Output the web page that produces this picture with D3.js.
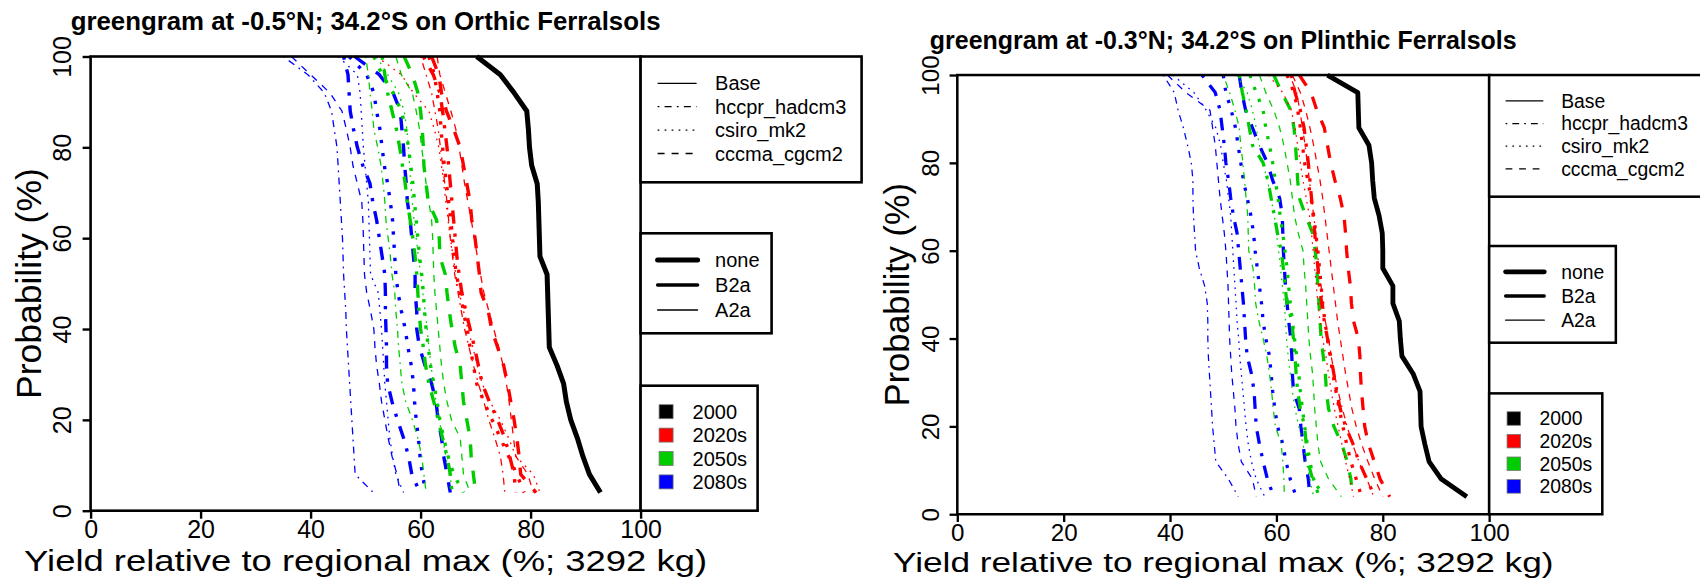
<!DOCTYPE html>
<html><head><meta charset="utf-8">
<script src="https://cdn.jsdelivr.net/npm/d3@7"></script>
<style>
body{margin:0;background:#fff;}
svg{display:block;font-family:"Liberation Sans",Arial,Helvetica,sans-serif;}
</style>
</head><body>
<svg id="chart" width="1700" height="579"></svg>
<script>
// ---------------- DATA ----------------
const probability = [100,96,92,88,84,80,76,72,68,64,60,56,52,48,44,40,36,32,28,24,20,16,12,8,4];
const xTicks = [0,20,40,60,80,100];
const yTicks = [0,20,40,60,80,100];
const gcmLegend = ["Base","hccpr_hadcm3","csiro_mk2","cccma_cgcm2"];
const scenarioLegend = ["none","B2a","A2a"];
const periodLegend = ["2000","2020s","2050s","2080s"];
const titles = ["greengram at -0.5°N; 34.2°S on Orthic Ferralsols","greengram at -0.3°N; 34.2°S on Plinthic Ferralsols"];
const xLabel = "Yield relative to regional max (%; 3292 kg)";
const yLabel = "Probability (%)";

// Left panel (Orthic Ferralsols) yields, % of regional max, for each probability level
const L_2000_none        = [70.2,74.5,77,79.3,79.6,79.8,80.2,81.2,81.4,81.5,81.6,81.7,83,83.1,83.2,83.3,83.4,84.8,86,86.5,87.3,88.5,89.5,90.7,92.7];
const L_2080s_hccpr_A2a  = [35,39.5,42.5,43.8,44.3,44.8,45,45.2,45.4,45.6,45.8,45.9,46,46.2,46.4,46.5,46.7,46.9,47.1,47.3,47.5,47.7,47.9,48.1,51.4];
const L_2080s_csiro_A2a  = [45,48.5,49,49.2,49.4,49.6,49.9,50.2,50.5,50.6,50.7,50.8,50.9,52.3,52.6,52.9,53.1,53.3,53.5,53.8,54.1,54.4,54.9,55.5,56.9];
const L_2080s_cccma_A2a  = [36.5,40,43.5,45.7,46.5,47.2,47.7,48.5,49.3,49.5,49.6,49.7,49.8,50.2,50.9,51.5,51.7,52,52.5,52.9,53.5,54.1,54.8,55.7,56.3];
const L_2080s_hccpr_B2a  = [46,46.8,47,47.2,47.8,48.5,49.5,50.8,51.3,52,52.5,53,53.5,53.6,53.6,53.7,53.8,53.8,54,54.8,55.8,56.9,57.8,58.4,59.9];
const L_2080s_csiro_B2a  = [47,50.2,51.5,52,52.6,53,53.4,54,54.5,54.9,55.1,55.3,55.5,55.9,56.5,57.2,57.7,58.3,58.7,58.9,59.2,59.6,59.9,60.3,61];
const L_2080s_cccma_B2a  = [48,52.5,55,56.3,56.6,56.9,57.1,57.4,57.6,58.1,58.4,58.7,59,59,59.3,59.3,59.8,60.8,62,62.8,63.2,63.8,64.2,64.8,65.4];
const L_2050s_hccpr_A2a  = [50,50.5,50.8,51.2,51.5,52.2,52.8,53.2,53.5,53.7,54.1,54.5,54.8,55.3,55.5,55.8,56,56.3,56.6,57.3,58.5,59.5,60.2,60.6,61];
const L_2050s_csiro_A2a  = [52,54,56,57,57.5,57.8,58,58.2,58.5,58.8,59.2,59.6,60,60.4,60.8,61.2,61.5,61.9,62.3,62.8,63.4,64,64.6,65.2,66];
const L_2050s_cccma_A2a  = [55.5,56.5,58.5,59.2,59.8,60.2,60.6,61,61.5,62,62.2,62.3,62.4,62.6,62.9,63.2,63.5,63.8,64.2,64.8,65.6,67.2,67.5,67.8,69];
const L_2050s_hccpr_B2a  = [53,53.5,54,54.8,55.6,56.2,56.7,57.2,57.6,58.1,58.6,59,59.3,59.5,59.7,60,60.5,60.9,61.5,62.4,63.2,64,64.8,65.4,65.7];
const L_2050s_csiro_B2a  = [51.5,53,55,56.5,57.3,57.8,58.2,58.6,58.9,59.2,59.5,59.8,60.2,60.5,60.7,61,61.4,61.8,62.4,63,63.5,64.2,65,66,67.8];
const L_2050s_cccma_B2a  = [57,58.5,59.5,60,60.3,60.5,60.6,61,61.4,62.9,63.4,63.5,64.5,64.8,65.2,65.7,66.3,67.2,67.5,67.8,68.4,69,69.2,69.6,70];
const L_2020s_hccpr_A2a  = [60,61,62,62.6,63.2,63.6,64,64.4,64.8,65.1,65.4,65.8,66.2,66.8,67.4,68,68.8,69.6,70.5,71.5,72.4,73.5,74.5,75,75.3];
const L_2020s_csiro_A2a  = [52,56.5,58.7,61.5,62.5,63.3,63.8,64.2,64.6,65,65.4,65.9,66.4,67,67.8,68.6,69.5,70.3,71.2,72.6,74.5,76,77.3,80.5,81.7];
const L_2020s_cccma_A2a  = [63,63.5,64.5,65.5,66.4,67,67.5,68,68.6,69.2,69.8,70.3,70.9,71.5,72.4,73.3,74.2,75,75.6,76.1,76.5,76.9,77.3,79.5,80.5];
const L_2020s_hccpr_B2a  = [60.5,62.3,63.5,64,64.4,64.8,65.1,65.4,65.7,66,66.3,66.6,67,67.5,68.2,69,69.8,70.5,71.2,72.5,74,75.3,76.2,77,77.3];
const L_2020s_csiro_B2a  = [61.5,62.5,63,63.5,63.7,64,64.3,64.7,65.1,65.5,65.8,66.1,66.5,67.2,67.8,68.4,69,69.6,70.2,71.5,73,74.5,76,77.5,78.8];
const L_2020s_cccma_B2a  = [62,63.3,63.8,64.7,66,67.2,67.8,68.4,69,69.3,69.9,70.3,70.7,71,72.3,72.9,74,75.1,75.8,76.4,77,77.5,77.9,78.2,81];

// Right panel (Plinthic Ferralsols)
const R_2000_none        = [69.6,75.3,75.4,75.5,77.4,77.9,78.1,78.4,79.3,79.9,80,80,81.9,81.9,83.1,83.3,83.6,85.7,87,87.1,87.2,87.9,88.7,91,95.8];
const R_2080s_hccpr_A2a  = [38.7,40.8,41.5,42.5,43.3,44,44.3,44.3,44.4,44.6,44.8,45.5,46.5,47,47.1,47.1,47.2,47.4,47.6,47.8,48,48.3,48.6,51,52.8];
const R_2080s_csiro_A2a  = [40.5,44.5,46.8,48.6,49.5,50,50.6,51,51.4,51.6,51.8,52,52.2,52.4,52.6,52.9,53.1,53.4,53.7,54,54.3,54.7,55.3,56.2,57.8];
const R_2080s_cccma_A2a  = [39.5,43,47.5,48,48.5,48.8,49.1,49.4,49.8,50.2,50.5,50.7,50.9,51,51.1,51.2,51.4,51.6,51.9,52.2,52.4,52.8,53.4,55.5,56.2];
const R_2080s_hccpr_B2a  = [46,48.5,49.4,49.8,50.2,50.5,51,51.4,51.9,52.6,52.9,53.2,53.5,53.8,54,54.2,54.5,55.3,55.8,56,56.2,56.8,57.5,58.3,59.5];
const R_2080s_csiro_B2a  = [50,50.5,51.5,52.3,52.8,53.3,53.8,54.5,55.2,55.7,56,56.4,56.8,57.2,57.5,58,58.7,59,59.3,59.7,60.2,61.2,61.8,62.6,63.7];
const R_2080s_cccma_B2a  = [53,53.5,54.2,55.5,56.8,58.3,59.3,60.6,61.1,61.2,61.3,61.5,61.7,62,62.3,62.7,62.9,63,63.2,64.3,64.6,65,65.4,66,66.3];
const R_2050s_hccpr_A2a  = [50,51.2,52.2,53,53.3,53.7,54,54.3,54.6,54.7,54.8,55.6,55.9,56.1,56.7,57.5,58.2,58.7,59.1,59.4,59.8,60.9,61.2,61.4,61.5];
const R_2050s_csiro_A2a  = [52.5,54.5,55.5,56.2,56.8,57.5,58.3,59,59.6,60,60.4,60.8,61.1,61.5,61.7,61.9,62.2,62.6,63,63.5,64.2,65,65.6,66.3,67];
const R_2050s_cccma_A2a  = [56.8,58,59.5,60.6,61.4,62,62.6,63,63.4,64.1,65,65.2,65.5,65.7,65.9,66.1,66.4,66.8,67,67.2,67.5,67.8,68.3,69.8,72.2];
const R_2050s_hccpr_B2a  = [53,53.6,54.3,54.9,55.5,57.5,58.4,59,59.6,60.2,60.9,61.3,61.6,62,62.9,63.2,63.5,63.7,64,64.5,65.3,65.6,65.9,66.8,69];
const R_2050s_csiro_B2a  = [55,56.2,57.5,58,58.7,59.3,59.8,60.3,60.7,61.2,61.6,62,62.3,62.6,63,63.4,63.8,64.2,64.5,64.9,65.3,65.8,66.3,67,68];
const R_2050s_cccma_B2a  = [59.5,61,62.7,63.3,63.6,63.8,64,64.3,65.5,66.8,67.3,67.6,67.8,68,68.2,68.4,68.8,69.2,69.4,69.8,70.8,72.3,73.3,74,74.3];
const R_2020s_hccpr_A2a  = [62.5,63.8,64.4,64.9,65.4,65.8,66.2,66.6,67,67.4,67.7,68,68.4,68.8,69.2,69.8,70.3,70.9,71.6,72.4,73.3,74.3,75.5,77,78.3];
const R_2020s_csiro_A2a  = [58.5,61.2,62.8,63.5,64,64.5,65,65.6,66.2,66.6,66.9,67.2,67.5,67.8,68.2,68.7,69.3,69.8,70.3,70.9,71.6,72.3,73,73.8,74.5];
const R_2020s_cccma_A2a  = [63,64.5,65.5,66.3,67,67.6,68.2,68.7,69.1,69.5,69.9,70.3,70.7,71.1,71.5,72,72.5,73,73.6,74.2,75,76,77.2,78.5,80];
const R_2020s_hccpr_B2a  = [62.8,63.5,64.5,65.2,65.6,66,66.3,66.6,66.9,67.2,67.5,67.8,68.1,68.5,69,69.6,70.2,70.8,71.3,72,73,74.4,75.5,77,78.5];
const R_2020s_csiro_B2a  = [62,63.3,64,64.5,64.9,65.3,65.9,66.5,67,67.4,67.8,68.1,68.4,68.7,69.1,69.6,70.1,70.6,71.2,71.8,72.5,73.2,74,75,76];
const R_2020s_cccma_B2a  = [64.3,66.5,67.6,69,69.6,70.2,71,72,72.7,73,73.2,73.5,73.9,74.1,74.5,75.4,75.7,75.8,76,76.3,76.6,77.3,78.4,79.5,81.3];

// ---------------- SERIES TABLES ----------------
function S(period, gcm, scen, vals){ return {period, gcm, scen, vals}; }
const leftSeries = [
  S("2080s","hccpr","A2a",L_2080s_hccpr_A2a), S("2080s","csiro","A2a",L_2080s_csiro_A2a), S("2080s","cccma","A2a",L_2080s_cccma_A2a),
  S("2080s","hccpr","B2a",L_2080s_hccpr_B2a), S("2080s","csiro","B2a",L_2080s_csiro_B2a), S("2080s","cccma","B2a",L_2080s_cccma_B2a),
  S("2050s","hccpr","A2a",L_2050s_hccpr_A2a), S("2050s","csiro","A2a",L_2050s_csiro_A2a), S("2050s","cccma","A2a",L_2050s_cccma_A2a),
  S("2050s","hccpr","B2a",L_2050s_hccpr_B2a), S("2050s","csiro","B2a",L_2050s_csiro_B2a), S("2050s","cccma","B2a",L_2050s_cccma_B2a),
  S("2020s","hccpr","A2a",L_2020s_hccpr_A2a), S("2020s","csiro","A2a",L_2020s_csiro_A2a), S("2020s","cccma","A2a",L_2020s_cccma_A2a),
  S("2020s","hccpr","B2a",L_2020s_hccpr_B2a), S("2020s","csiro","B2a",L_2020s_csiro_B2a), S("2020s","cccma","B2a",L_2020s_cccma_B2a),
  S("2000","base","none",L_2000_none)
];
const rightSeries = [
  S("2080s","hccpr","A2a",R_2080s_hccpr_A2a), S("2080s","csiro","A2a",R_2080s_csiro_A2a), S("2080s","cccma","A2a",R_2080s_cccma_A2a),
  S("2080s","hccpr","B2a",R_2080s_hccpr_B2a), S("2080s","csiro","B2a",R_2080s_csiro_B2a), S("2080s","cccma","B2a",R_2080s_cccma_B2a),
  S("2050s","hccpr","A2a",R_2050s_hccpr_A2a), S("2050s","csiro","A2a",R_2050s_csiro_A2a), S("2050s","cccma","A2a",R_2050s_cccma_A2a),
  S("2050s","hccpr","B2a",R_2050s_hccpr_B2a), S("2050s","csiro","B2a",R_2050s_csiro_B2a), S("2050s","cccma","B2a",R_2050s_cccma_B2a),
  S("2020s","hccpr","A2a",R_2020s_hccpr_A2a), S("2020s","csiro","A2a",R_2020s_csiro_A2a), S("2020s","cccma","A2a",R_2020s_cccma_A2a),
  S("2020s","hccpr","B2a",R_2020s_hccpr_B2a), S("2020s","csiro","B2a",R_2020s_csiro_B2a), S("2020s","cccma","B2a",R_2020s_cccma_B2a),
  S("2000","base","none",R_2000_none)
];

// ---------------- STYLE ----------------
const colorOf = {"2000":"#000000","2020s":"#FF0000","2050s":"#00CD00","2080s":"#0000FF"};
const widthOf = {none:5, B2a:3.4, A2a:1.3};
function dashOf(gcm, scen){
  const u = scen === "B2a" ? 3.3 : 1.75;
  if (gcm === "cccma") return [4*u,4*u].join(",");
  if (gcm === "csiro") return [1*u,3*u].join(",");
  if (gcm === "hccpr") return [1*u,3*u,4*u,3*u].join(",");
  return null;
}

const svg = d3.select("#chart");
svg.append("rect").attr("width",1700).attr("height",579).attr("fill","#fff");

function drawPanel(g, title, series){
  const x = d3.scaleLinear().domain([0,100]).range([90.6,640.6]);
  const y = d3.scaleLinear().domain([0,100]).range([510.7,56.5]);
  const line = d3.line().x(d => x(d[1])).y(d => y(d[0]));

  g.selectAll("path.series").data(series).join("path")
    .attr("class","series")
    .attr("d", s => line(probability.map((p,i) => [p, s.vals[i]])))
    .attr("fill","none")
    .attr("stroke", s => colorOf[s.period])
    .attr("stroke-width", s => widthOf[s.scen])
    .attr("stroke-dasharray", s => dashOf(s.gcm, s.scen))
    .attr("stroke-linejoin","round")
    .attr("stroke-linecap","butt");

  // plot box
  g.append("rect").attr("x",x(0)).attr("y",y(100))
    .attr("width",x(100)-x(0)).attr("height",y(0)-y(100))
    .attr("fill","none").attr("stroke","#000").attr("stroke-width",2.6);

  // x axis
  const gx = g.append("g").attr("transform",`translate(0,${y(0)})`)
    .call(d3.axisBottom(x).tickValues(xTicks).tickSize(8).tickPadding(1.5).tickFormat(d3.format("d")));
  gx.select(".domain").remove();
  gx.selectAll(".tick line").attr("stroke","#000").attr("stroke-width",2.4);
  gx.selectAll(".tick text").attr("font-size",25).attr("fill","#000").attr("font-family","Liberation Sans, Arial, sans-serif");

  // y axis (labels parallel to axis)
  const gy = g.append("g").attr("transform",`translate(${x(0)},0)`)
    .call(d3.axisLeft(y).tickValues(yTicks).tickSize(8).tickFormat(d3.format("d")));
  gy.select(".domain").remove();
  gy.selectAll(".tick line").attr("stroke","#000").attr("stroke-width",2.4);
  gy.selectAll(".tick text").attr("x",null).attr("dy",null)
    .attr("transform","translate(-19.2,0) rotate(-90)")
    .attr("text-anchor","middle").attr("font-size",25).attr("fill","#000")
    .attr("font-family","Liberation Sans, Arial, sans-serif");

  // titles / labels
  g.append("text").attr("x",(x(0)+x(100))/2).attr("y",29.5).attr("text-anchor","middle")
    .attr("font-size",25.8).attr("font-weight","bold").text(title);
  g.append("text").attr("x",(x(0)+x(100))/2).attr("y",570.5).attr("text-anchor","middle")
    .attr("font-size",29.5).attr("textLength",683).attr("lengthAdjust","spacingAndGlyphs")
    .text(xLabel);
  g.append("text").attr("transform",`translate(41,${(y(0)+y(100))/2}) rotate(-90)`)
    .attr("text-anchor","middle").attr("font-size",35.5).text(yLabel);

  // ---- legends (outside plot, left edge on x=100) ----
  const lx = x(100);
  // Legend 1: GCM line types
  g.append("rect").attr("x",lx).attr("y",y(100)).attr("width",221).attr("height",125.8)
    .attr("fill","#fff").attr("stroke","#000").attr("stroke-width",2.6);
  const gcmKeys = ["base","hccpr","csiro","cccma"];
  gcmLegend.forEach((t,i) => {
    const ry = y(100) + 26.8 + i*23.4;
    g.append("line").attr("x1",lx+17).attr("x2",lx+56).attr("y1",ry).attr("y2",ry)
      .attr("stroke","#000").attr("stroke-width",1.3).attr("stroke-dasharray",dashOf(gcmKeys[i],"A2a"));
    g.append("text").attr("x",lx+74.5).attr("y",ry+7).attr("font-size",20).text(t);
  });
  // Legend 2: scenario line widths
  g.append("rect").attr("x",lx).attr("y",233.3).attr("width",131).attr("height",100)
    .attr("fill","#fff").attr("stroke","#000").attr("stroke-width",2.6);
  scenarioLegend.forEach((t,i) => {
    const ry = 260 + i*25;
    g.append("line").attr("x1",lx+17).attr("x2",lx+57).attr("y1",ry).attr("y2",ry)
      .attr("stroke","#000").attr("stroke-width",widthOf[t]).attr("stroke-linecap","round");
    g.append("text").attr("x",lx+74.5).attr("y",ry+7).attr("font-size",20).text(t);
  });
  // Legend 3: period colours
  g.append("rect").attr("x",lx).attr("y",385.7).attr("width",117).attr("height",y(0)-385.7)
    .attr("fill","#fff").attr("stroke","#000").attr("stroke-width",2.6);
  periodLegend.forEach((t,i) => {
    const ry = 411.7 + i*23.4;
    g.append("rect").attr("x",lx+18.5).attr("y",ry-7).attr("width",14).attr("height",14)
      .attr("fill",colorOf[t]).attr("stroke","#777").attr("stroke-width",0.8);
    g.append("text").attr("x",lx+52).attr("y",ry+7).attr("font-size",20).text(t);
  });
}

const gL = svg.append("g");
drawPanel(gL, titles[0], leftSeries);
const gR = svg.append("g").attr("transform","translate(869.7,20.4) scale(0.967)");
drawPanel(gR, titles[1], rightSeries);
</script>
</body></html>
